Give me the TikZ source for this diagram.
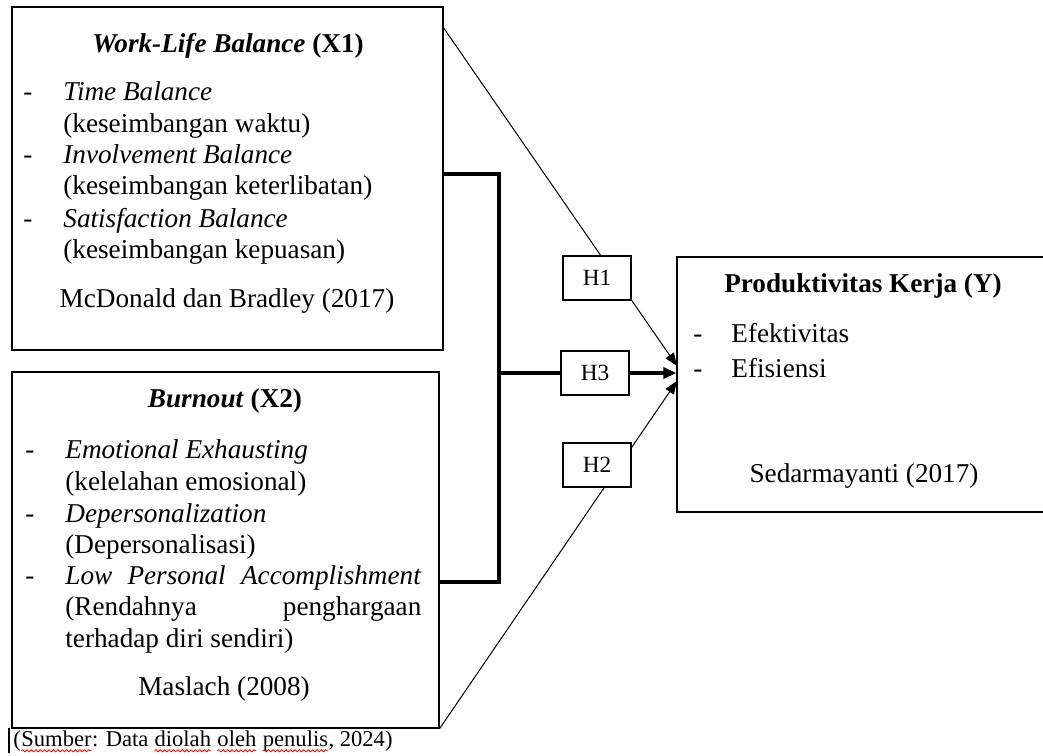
\documentclass[tikz,border=0pt]{standalone}
\usepackage{fontspec}
\setmainfont{Liberation Serif}
\usetikzlibrary{arrows.meta,fit,decorations.pathmorphing}
\newcommand\redwave[1]{\tikz[baseline=(w.base),x=1pt,y=1pt]{\node[inner sep=0pt,outer sep=0pt,anchor=base west](w) at (0,0){#1};\draw[red,line width=0.4pt,decorate,decoration={snake,amplitude=0.55pt,segment length=2.2pt}] (0,-2.4) -- (w.base east |- 0,-2.4);}}
\begin{document}
\begin{tikzpicture}[x=0.5pt,y=-0.5pt,
  txt/.style={inner sep=0pt, anchor=base west, font=\fontsize{13.6pt}{16pt}\selectfont},
  ctr/.style={inner sep=0pt, anchor=base, font=\fontsize{13.6pt}{16pt}\selectfont},
  box/.style={draw, line width=0.6pt, inner sep=0pt},
  hbox/.style={draw, line width=0.6pt, fill=white, inner sep=0pt, minimum width=34pt, minimum height=22pt, font=\fontsize{11.6pt}{13pt}\selectfont},
  thinarrow/.style={line width=0.5pt, -{Triangle[length=6.5pt,width=5pt]}},
  thickline/.style={line width=2pt, line join=miter},
  thickarrow/.style={line width=2pt, -{Triangle[length=6.5pt,width=5.5pt]}}]
\useasboundingbox (0,0) rectangle (1043,755);

% boxes
\coordinate (x1a) at (12,7);   \coordinate (x1b) at (443,350);
\coordinate (x2a) at (12,372); \coordinate (x2b) at (439,728);
\coordinate (ya) at (677,257); \coordinate (yb) at (1046,512);
\node[box, fit=(x1a)(x1b)] (x1) {};
\node[box, fit=(x2a)(x2b)] (x2) {};
\node[box, fit=(ya)(yb)] (y) {};

% connector points
\coordinate (s1) at (443,27);
\coordinate (e1) at (677,366);
\coordinate (e3) at (677,381);
\coordinate (b1) at (443,174);
\coordinate (b2) at (439,582);
\coordinate (jn) at (499,373);

% H boxes positions
\coordinate (h1p) at (597,278);
\coordinate (h3p) at (595,373);
\coordinate (h2p) at (597,465);

% connectors
\draw[thinarrow] (s1) -- (e1);
\draw[thinarrow] (x2.south east) -- (e3);
\draw[thickline] (b1) -- (b1 -| jn) -- (b2 -| jn) -- (b2);
\draw[thickline] (jn) -- (h3p);
\draw[thickarrow] (h3p) -- (h3p -| y.west);

\node[hbox] (h1) at (h1p) {H1};
\node[hbox] (h3) at (h3p) {H3};
\node[hbox] (h2) at (h2p) {H2};

% X1 text
\node[ctr] (x1t) at (228,52) {\textbf{\textit{Work-Life Balance}} \textbf{(X1)}};
\node[txt] (x1d1) at (23,100) {-};
\node[txt] (x1l1) at (63,100) {\textit{Time Balance}};
\node[txt] (x1l2) at (63,132) {(keseimbangan waktu)};
\node[txt] (x1d2) at (23,163) {-};
\node[txt] (x1l3) at (63,163) {\textit{Involvement Balance}};
\node[txt] (x1l4) at (63,194) {(keseimbangan keterlibatan)};
\node[txt] (x1d3) at (23,227) {-};
\node[txt] (x1l5) at (63,227) {\textit{Satisfaction Balance}};
\node[txt] (x1l6) at (63,258) {(keseimbangan kepuasan)};
\node[ctr] (x1s) at (227,307) {McDonald dan Bradley (2017)};

% X2 text
\node[ctr] (x2t) at (225,407) {\textbf{\textit{Burnout}} \textbf{(X2)}};
\node[txt] (x2d1) at (25,458) {-};
\node[txt] (x2l1) at (65,458) {\textit{Emotional Exhausting}};
\node[txt] (x2l2) at (65,490) {(kelelahan emosional)};
\node[txt] (x2d2) at (25,522) {-};
\node[txt] (x2l3) at (65,522) {\textit{Depersonalization}};
\node[txt] (x2l4) at (65,553) {(Depersonalisasi)};
\node[txt] (x2d3) at (25,584) {-};
\node[txt] (x2l5) at (65,584) {\hbox to 178pt{\textit{Low}\hfill\textit{Personal}\hfill\textit{Accomplishment}}};
\node[txt] (x2l6) at (65,615) {\hbox to 178pt{(Rendahnya\hfill penghargaan}};
\node[txt] (x2l7) at (65,647) {terhadap diri sendiri)};
\node[ctr] (x2s) at (224,695) {Maslach (2008)};

% Y text
\node[ctr] (yt) at (863,292) {\textbf{Produktivitas Kerja (Y)}};
\node[txt] (yd1) at (693,342) {-};
\node[txt] (yl1) at (731,342) {Efektivitas};
\node[txt] (yd2) at (693,377) {-};
\node[txt] (yl2) at (731,377) {Efisiensi};
\node[ctr] (ys) at (864,482) {Sedarmayanti (2017)};

% caption
\draw[line width=0.6pt] (9,728) -- (9,753);
\node[txt, font=\fontsize{11.3pt}{13pt}\selectfont] (cap) at (13,746) {(\redwave{Sumber}: Data \redwave{diolah} \redwave{oleh} \redwave{penulis}, 2024)};
\end{tikzpicture}
\end{document}
